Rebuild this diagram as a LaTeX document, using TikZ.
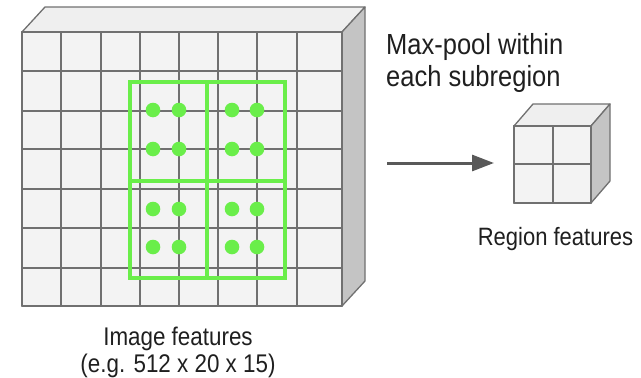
\documentclass[tikz,border=0pt]{standalone}
\usepackage{fontspec}
\setmainfont{Liberation Sans}
\usetikzlibrary{arrows.meta}
\definecolor{facefill}{HTML}{F3F3F3}
\definecolor{topfill}{HTML}{EFEFEF}
\definecolor{sidefill}{HTML}{C4C4C4}
\definecolor{gridline}{HTML}{707070}
\definecolor{roigreen}{HTML}{6AEE4A}
\definecolor{arrowgray}{HTML}{595959}
\definecolor{textcol}{HTML}{1F1F1F}
\begin{document}
\begin{tikzpicture}[x=1pt,y=-1pt,
  cubeline/.style={draw=gridline,line width=1.3pt,line join=round},
  roi/.style={draw=roigreen,line width=4pt},
  roidot/.style={circle,fill=roigreen,minimum size=14.6pt,inner sep=0pt},
  lbl/.style={text=textcol,inner sep=0pt}]
\useasboundingbox (0,0) rectangle (641,378);
% big feature map cube
\path[cubeline,fill=topfill] (22,32) -- (45,7) -- (365,7) -- (342,32) -- cycle;
\path[cubeline,fill=sidefill] (342,32) -- (365,7) -- (365,281) -- (342,306) -- cycle;
\path[cubeline,fill=facefill] (22,32) rectangle (342,306);
\foreach \x in {61,101,140,179,218,257,297} \draw[cubeline] (\x,32) -- (\x,306);
\foreach \y in {71,111,149,189,228,268} \draw[cubeline] (22,\y) -- (342,\y);
\draw[cubeline] (22,32) rectangle (342,306);
% region of interest
\draw[roi] (130,82) rectangle (284.5,277.5);
\draw[roi] (206.5,82) -- (206.5,277.5);
\draw[roi] (130,180.5) -- (284.5,180.5);
\foreach \x in {153,179,232,257}
  \foreach \y in {110,149,209,247}
    \node[roidot] (d-\x-\y) at (\x,\y) {};
% arrow
\coordinate (arrowstart) at (387,163);
\coordinate (arrowend) at (494,163);
\draw[arrowgray,line width=3pt,-{Triangle[length=22pt,width=16pt]}] (arrowstart) -- (arrowend);
% small region cube
\path[cubeline,fill=topfill] (514,126) -- (533,104) -- (610,104) -- (591,126) -- cycle;
\path[cubeline,fill=sidefill] (591,126) -- (610,104) -- (610,181) -- (591,203) -- cycle;
\path[cubeline,fill=facefill] (514,126) rectangle (591,203);
\draw[cubeline] (553,126) -- (553,203);
\draw[cubeline] (514,164) -- (591,164);
\draw[cubeline] (514,126) rectangle (591,203);
% labels
\node[lbl,anchor=base west] (mp1) at (386,54) {\fontsize{25.5}{30}\selectfont\scalebox{1}[1.14]{Max-pool within}};
\node[lbl,anchor=base west] (mp2) at (386,86) {\fontsize{25.5}{30}\selectfont\scalebox{1}[1.14]{each subregion}};
\node[lbl,anchor=base] (rf) at (555.5,245) {\fontsize{22}{26}\selectfont\scalebox{1}[1.14]{Region features}};
\node[lbl,anchor=base] (if1) at (178,345) {\fontsize{22.4}{26}\selectfont\scalebox{1}[1.14]{Image features}};
\node[lbl,anchor=base] (if2) at (178,372) {\fontsize{22.4}{26}\selectfont\scalebox{1}[1.14]{(e.g. 512 x 20 x 15)}};
\end{tikzpicture}
\end{document}
